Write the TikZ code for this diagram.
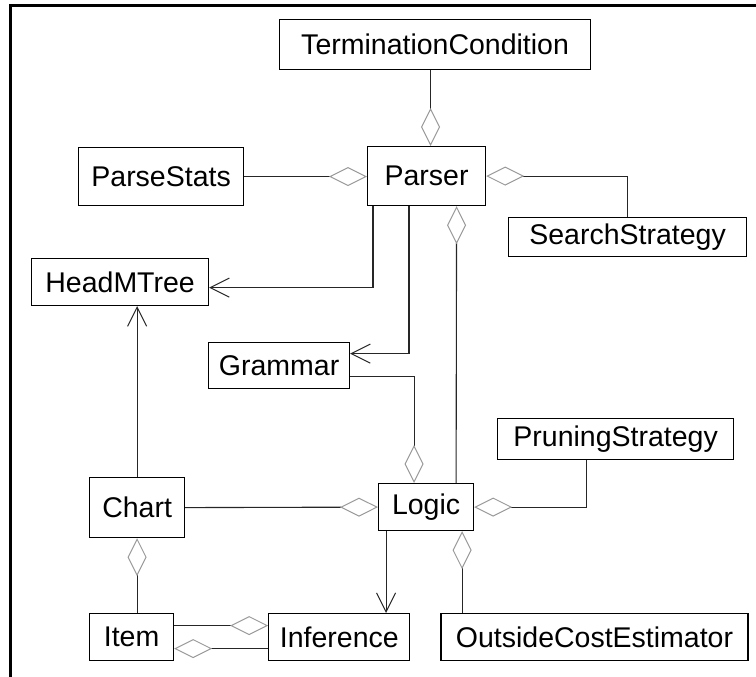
\documentclass[tikz,border=0pt]{standalone}
\usepackage{fontspec}
\setmainfont{Liberation Sans}
\usetikzlibrary{arrows.meta}
\usetikzlibrary{positioning}

\begin{document}
\begin{tikzpicture} [
  x=1pt, y=-1pt,
  every node/.style={draw,line width=1.2pt,inner sep=0,anchor=north west,font=\fontsize{28.5}{30}\selectfont},
  aggr/.style={line width=1.1pt,draw=black!85,{Diamond[open,length=38pt,width=19pt,color=black!40,line width=1pt]}-},
  dep/.style={line width=1.1pt,draw=black!85,-{Straight Barb[length=19pt,width=19pt,line width=1pt]}}
  ]
  \useasboundingbox (0,0) rectangle (756,677);
  % frame of the screenshot
  \draw [line width=3pt] (10,677) -- (10,6) -- (756,6);

  \node [minimum width=311pt,minimum height=50pt] (tc) at (279,19) {TerminationCondition};
  \node [minimum width=165pt,minimum height=58pt] (stats) at (78,147) {ParseStats};
  \node [minimum width=118pt,minimum height=59pt] (parser) at (367,146) {Parser};
  \node [minimum width=238pt,minimum height=39pt] (search) at (508,217) {SearchStrategy};
  \node [minimum width=177pt,minimum height=47pt] (head) at (31,258) {HeadMTree};
  \node [minimum width=141pt,minimum height=46pt] (grammar) at (208,342) {Grammar};
  \node [minimum width=236pt,minimum height=41pt] (pruning) at (497,418) {PruningStrategy};
  \node [minimum width=95pt,minimum height=60pt] (chart) at (89,477) {Chart};
  \node [minimum width=95pt,minimum height=47pt] (logic) at (378,483) {Logic};
  \node [minimum width=84pt,minimum height=47pt] (item) at (89,613) {Item};
  \node [anchor=west,minimum width=141pt,minimum height=47pt,right=94pt of item] (infer) {Inference};
  \node [anchor=west,minimum width=307pt,minimum height=47pt,right=30pt of infer] (oce) {OutsideCostEstimator};

  \draw [aggr] ([xshift=4pt]parser.north) -- ([xshift=4pt]parser.north |- tc.south);
  \draw [aggr] (stats.east -| parser.west) -- (stats.east);
  \draw [aggr] (parser.east) -| (search.north);
  \draw [dep] ([xshift=6pt]parser.south west) |- ([yshift=-5.5pt]head.east);
  \draw [dep] ([xshift=42pt]parser.south west) |- ([yshift=12pt]grammar.east);
  \draw [aggr] ([xshift=30pt]parser.south) -- ([xshift=30pt]logic.north);
  \draw [aggr] ([xshift=-12pt]logic.north) |- ([yshift=-11pt]grammar.east);
  \draw [dep] (chart.north) -- (chart.north |- head.south);
  \draw [aggr] (logic.west) -- (chart.east);
  \draw [aggr] (logic.east) -| ([xshift=-29pt]pruning.south);
  \draw [aggr] ([xshift=36pt]logic.south) -- ([xshift=36pt]logic.south |- oce.north);
  \draw [dep] ([xshift=-40pt]logic.south) -- ([xshift=-40pt]logic.south |- infer.north);
  \draw [aggr] (chart.south) -- (chart.south |- item.north);
  \draw [aggr] ([yshift=11.5pt]infer.west) -- ([yshift=11.5pt]infer.west -| item.east);
  \draw [aggr] ([yshift=-11.5pt]item.east) -- ([yshift=-11.5pt]item.east -| infer.west);
\end{tikzpicture}
\end{document}
